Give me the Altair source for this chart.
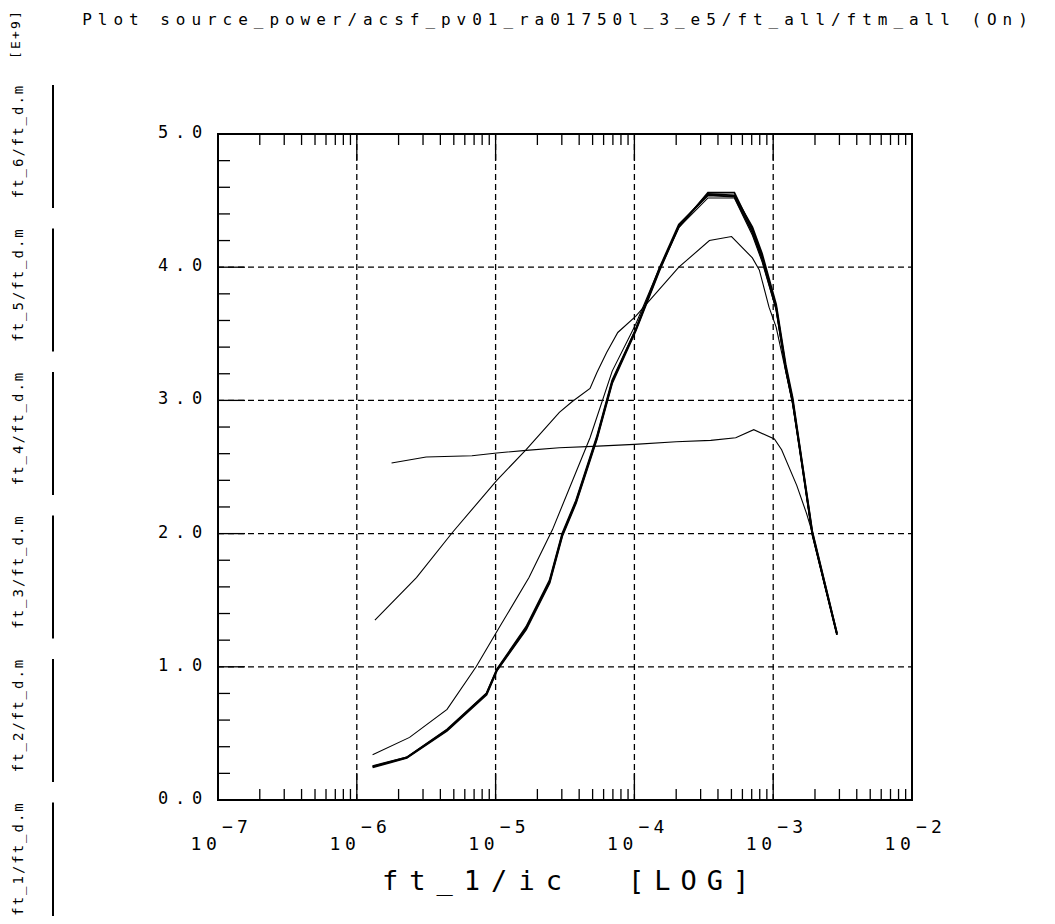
import altair as alt
import pandas as pd

# ---------------- content ----------------
TITLE = "Plot source_power/acsf_pv01_ra01750l_3_e5/ft_all/ftm_all (On)"
X_TITLE = "ft_1/ic"
X_UNIT = "[LOG]"
Y_UNIT = "[E+9]"
LEGEND_LABELS = ["ft_1/ft_d.m", "ft_2/ft_d.m", "ft_3/ft_d.m",
                 "ft_4/ft_d.m", "ft_5/ft_d.m", "ft_6/ft_d.m"]
Y_TICKS = [0, 1, 2, 3, 4, 5]
X_DECADES = [-7, -6, -5, -4, -3, -2]

ft1_ic = [1.78e-6, 3.16e-6, 6.76e-6, 1.02e-5, 1.66e-5, 2.88e-5, 5.01e-5, 1.0e-4,
          2.0e-4, 3.55e-4, 5.37e-4, 7.24e-4, 1.02e-3, 1.15e-3, 1.48e-3, 1.74e-3,
          1.91e-3, 2.34e-3, 2.88e-3]
ft1 = [2.53, 2.575, 2.585, 2.605, 2.625, 2.645, 2.655, 2.67, 2.69, 2.70, 2.72,
       2.78, 2.71, 2.63, 2.36, 2.15, 2.01, 1.62, 1.25]

ft2_ic = [1.35e-6, 2.69e-6, 4.90e-6, 1.02e-5, 1.66e-5, 2.88e-5, 3.55e-5, 4.79e-5,
          5.37e-5, 6.31e-5, 7.59e-5, 1.02e-4, 2.09e-4, 3.47e-4, 5.01e-4, 7.08e-4,
          7.94e-4, 9.33e-4, 1.05e-3, 1.23e-3, 1.38e-3, 1.55e-3, 1.91e-3, 2.34e-3,
          2.88e-3]
ft2 = [1.35, 1.67, 2.01, 2.40, 2.63, 2.91, 2.99, 3.09, 3.21, 3.36, 3.51, 3.63,
       4.00, 4.20, 4.23, 4.07, 3.98, 3.70, 3.55, 3.22, 2.98, 2.64, 2.00, 1.62, 1.24]

ft3_ic = [1.30e-6, 2.40e-6, 4.47e-6, 7.24e-6, 1.07e-5, 1.74e-5, 2.57e-5, 4.79e-5,
          6.92e-5, 1.02e-4, 1.51e-4, 2.09e-4, 3.39e-4, 5.25e-4, 7.08e-4, 8.32e-4,
          1.05e-3, 1.23e-3, 1.38e-3, 1.55e-3, 1.91e-3, 2.88e-3]
ft3 = [0.34, 0.47, 0.68, 1.00, 1.30, 1.67, 2.03, 2.72, 3.22, 3.57, 3.99, 4.30,
       4.52, 4.52, 4.24, 4.04, 3.68, 3.22, 2.97, 2.63, 1.99, 1.24]

thick_ic = [1.30e-6, 2.29e-6, 4.47e-6, 8.61e-6, 1.02e-5, 1.66e-5, 2.45e-5, 3.02e-5,
            3.80e-5, 5.37e-5, 6.92e-5, 1.02e-4, 1.51e-4, 2.09e-4, 3.39e-4, 5.25e-4,
            7.08e-4, 8.32e-4, 1.05e-3, 1.23e-3, 1.38e-3, 1.55e-3, 1.91e-3, 2.88e-3]
ft4 = [0.255, 0.32, 0.53, 0.80, 0.98, 1.30, 1.65, 2.00, 2.25, 2.73, 3.15, 3.53,
       3.98, 4.30, 4.56, 4.56, 4.28, 4.08, 3.70, 3.25, 3.00, 2.65, 2.01, 1.25]
ft5 = [0.245, 0.315, 0.52, 0.79, 0.97, 1.28, 1.63, 1.98, 2.23, 2.71, 3.13, 3.52,
       3.97, 4.31, 4.55, 4.54, 4.30, 4.10, 3.72, 3.27, 3.02, 2.66, 2.02, 1.25]
ft6 = [0.25, 0.32, 0.525, 0.80, 0.975, 1.29, 1.64, 1.99, 2.24, 2.72, 3.14, 3.53,
       3.99, 4.32, 4.54, 4.53, 4.26, 4.06, 3.69, 3.24, 2.99, 2.64, 2.00, 1.24]

# ---------------- layout ----------------
W, H = 694, 666          # plot area
OX, OY = 218, 134        # plot origin in page pixels
FONT = "DejaVu Sans Mono"

xs = alt.Scale(type="log", domain=[1e-7, 1e-2], nice=False)
ys = alt.Scale(type="linear", domain=[0, 5], nice=False, zero=False)


def rows(series, ic, ft):
    return [{"series": series, "ic": a, "ft": b} for a, b in zip(ic, ft)]


thin_df = pd.DataFrame(rows("ft_1", ft1_ic, ft1) + rows("ft_2", ft2_ic, ft2)
                       + rows("ft_3", ft3_ic, ft3))
thick_df = pd.DataFrame(rows("ft_4", thick_ic, ft4) + rows("ft_5", thick_ic, ft5)
                        + rows("ft_6", thick_ic, ft6))

X = lambda f: alt.X(f, scale=xs, axis=None)
Y = lambda f: alt.Y(f, scale=ys, axis=None)

thin = alt.Chart(thin_df).mark_line(color="black", strokeWidth=1.1).encode(
    x=X("ic:Q"), y=Y("ft:Q"), detail="series:N")
thick = alt.Chart(thick_df).mark_line(color="black", strokeWidth=1.8).encode(
    x=X("ic:Q"), y=Y("ft:Q"), detail="series:N")

# grid
dec_vals = [10.0 ** d for d in X_DECADES]
inner_dec = pd.DataFrame({"v": dec_vals[1:-1]})
inner_y = pd.DataFrame({"v": Y_TICKS[1:-1]})
grid_x = alt.Chart(inner_dec).mark_rule(color="black", strokeWidth=1.3, strokeDash=[6, 4]).encode(
    x=X("v:Q"), y=alt.value(0), y2=alt.value(H))
grid_y = alt.Chart(inner_y).mark_rule(color="black", strokeWidth=1.3, strokeDash=[6, 4]).encode(
    y=Y("v:Q"), x=alt.value(0), x2=alt.value(W))

# ticks (inward)
minor_x = pd.DataFrame({"v": [k * 10.0 ** d for d in X_DECADES[:-1] for k in range(2, 10)]})
minor_y = pd.DataFrame({"v": [round(i * 0.2, 1) for i in range(1, 25) if i % 5 != 0]})
MINOR, MAJOR = 11, 27
tick_layers = []
for y0, y1 in [(H, H - MINOR), (0, MINOR)]:
    tick_layers.append(alt.Chart(minor_x).mark_rule(color="black", strokeWidth=1.3).encode(
        x=X("v:Q"), y=alt.value(y0), y2=alt.value(y1)))
for y0, y1 in [(H, H - MAJOR), (0, MAJOR)]:
    tick_layers.append(alt.Chart(inner_dec).mark_rule(color="black", strokeWidth=1.3).encode(
        x=X("v:Q"), y=alt.value(y0), y2=alt.value(y1)))
tick_layers.append(alt.Chart(minor_y).mark_rule(color="black", strokeWidth=1.3).encode(
    y=Y("v:Q"), x=alt.value(0), x2=alt.value(12)))
tick_layers.append(alt.Chart(inner_y).mark_rule(color="black", strokeWidth=1.3).encode(
    y=Y("v:Q"), x=alt.value(0), x2=alt.value(MAJOR)))

frame = alt.Chart(pd.DataFrame({"a": [0]})).mark_rect(
    fillOpacity=0, stroke="black", strokeWidth=2).encode(
    x=alt.value(0), x2=alt.value(W), y=alt.value(0), y2=alt.value(H))


# ---------------- text ----------------
def spaced(text, cx, cy, step, vertical=False):
    out = []
    for i, ch in enumerate(text):
        if ch == " ":
            continue
        if vertical:
            out.append({"ch": ch, "px": cx - OX, "py": cy - i * step - OY})
        else:
            out.append({"ch": ch, "px": cx + i * step - OX, "py": cy - OY})
    return out


def glyph_layer(recs, size, baseline="middle", angle=0):
    return alt.Chart(pd.DataFrame(recs)).mark_text(
        font=FONT, fontSize=size, baseline=baseline, align="center", angle=angle,
        color="black").encode(
        x=alt.X("px:Q", scale=None, axis=None),
        y=alt.Y("py:Q", scale=None, axis=None),
        text="ch:N")


title_layer = glyph_layer(spaced(TITLE, 87, 20, 15.6), 16)
xtitle_layer = glyph_layer(spaced(X_TITLE, 390, 890, 27.3) + spaced(X_UNIT, 636, 890, 26.25),
                           27, baseline="alphabetic")
LEG_STEP, LEG_LEN, LEG_GAP = 10.4, 123, 143.5
leg_recs = []
for k, lab in enumerate(LEGEND_LABELS):
    top = 85 + (len(LEGEND_LABELS) - 1 - k) * LEG_GAP
    bottom_center = top + 5 + (len(lab) - 1) * LEG_STEP
    leg_recs += spaced(lab, 19, bottom_center, LEG_STEP, vertical=True)
leg_text = glyph_layer(leg_recs, 14, angle=270)
unit_text = glyph_layer(spaced(Y_UNIT, 16, 55, 10, vertical=True), 13, angle=270)

leg_lines_df = pd.DataFrame({
    "series": LEGEND_LABELS,
    "y0": [85 + (len(LEGEND_LABELS) - 1 - k) * LEG_GAP - OY for k in range(len(LEGEND_LABELS))],
})
leg_lines_df["y1"] = leg_lines_df["y0"] + LEG_LEN
leg_lines = alt.Chart(leg_lines_df).mark_rule(color="black", strokeWidth=2).encode(
    x=alt.value(53 - OX),
    y=alt.Y("y0:Q", scale=None, axis=None),
    y2="y1:Q")

# y tick labels, one glyph per cell
ylab = []
for v in Y_TICKS:
    s = f"{v:.1f}"
    for i, ch in enumerate(s):
        ylab.append({"v": v, "ch": ch, "px": 163 + 17 * i - OX})
ylab_layer = alt.Chart(pd.DataFrame(ylab)).mark_text(
    font=FONT, fontSize=17, baseline="middle", align="center", dy=-1, color="black").encode(
    x=alt.X("px:Q", scale=None, axis=None), y=Y("v:Q"), text="ch:N")

# x tick labels: "10" with superscript exponent
xlab_df = pd.DataFrame({"v": dec_vals, "exp": [str(abs(d)) for d in X_DECADES]})
xlab_layers = []
for txt, dx, base in [("1", -22, 716), ("0", -6.5, 716), ("\u2212", 9.5, 699)]:
    xlab_layers.append(alt.Chart(xlab_df).mark_text(
        font=FONT, fontSize=18, baseline="alphabetic", align="center", dx=dx,
        color="black").encode(x=X("v:Q"), y=alt.value(base), text=alt.value(txt)))
xlab_layers.append(alt.Chart(xlab_df).mark_text(
    font=FONT, fontSize=18, baseline="alphabetic", align="center", dx=24.5,
    color="black").encode(x=X("v:Q"), y=alt.value(699), text="exp:N"))

chart = alt.layer(
    grid_x, grid_y, *tick_layers, thin, thick, frame,
    ylab_layer, *xlab_layers, title_layer, xtitle_layer, leg_text, unit_text, leg_lines,
).resolve_scale(x="independent", y="independent").properties(
    width=W, height=H,
    autosize=alt.AutoSizeParams(type="none"),
    padding={"left": OX - 8, "top": OY - 8, "right": 1039 - (OX - 8) - W,
             "bottom": 908 - (OY - 8) - H},
    background="white",
).configure_view(stroke=None)

chart.save("out.html", embed_options={"renderer": "svg", "actions": False})
